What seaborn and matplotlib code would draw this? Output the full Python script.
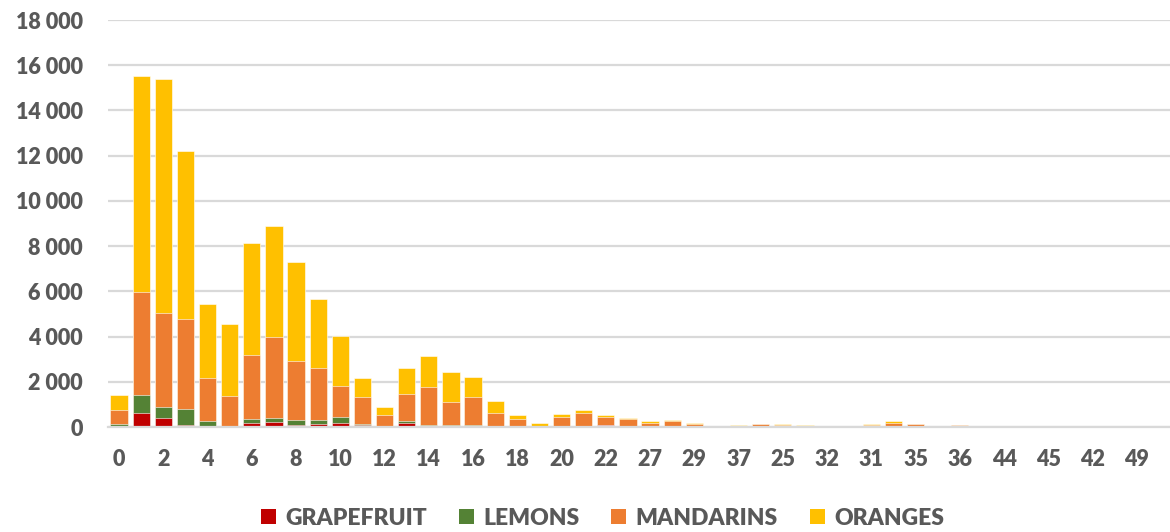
import matplotlib
matplotlib.use("Agg")
import matplotlib.pyplot as plt
from matplotlib.patches import Patch
from matplotlib.ticker import FuncFormatter
import seaborn as sns
import pandas as pd

# categories in the order they appear on the x axis
cats = ["0", "1", "2", "3", "4", "5", "6", "7", "8", "9", "10", "11", "12",
        "13", "14", "15", "16", "17", "18", "19", "20", "21", "22", "24",
        "27", "28", "29", "26", "37", "23", "25", "30", "32", "33", "31",
        "34", "35", "38", "36", "40", "44", "41", "45", "39", "42", "43",
        "49", "47"]

grapefruit = [70, 645, 411, 115, 20, 5, 203, 221, 102, 159, 190, 88, 5,
              203, 10, 40, 70, 10, 0, 0, 0, 0, 88, 0,
              0, 0, 0, 0, 0, 0, 0, 0, 0, 0, 0,
              0, 30, 0, 0, 0, 0, 0, 0, 0, 0, 0, 0, 0]
lemons = [90, 782, 473, 694, 270, 65, 164, 190, 234, 177, 265, 71, 15,
          89, 105, 40, 45, 40, 10, 0, 15, 40, 20, 0,
          0, 0, 0, 0, 0, 0, 0, 0, 0, 0, 0,
          0, 0, 0, 0, 0, 0, 0, 0, 0, 0, 0, 0, 0]
mandarins = [618, 4566, 4180, 3977, 1900, 1313, 2828, 3579, 2594, 2284, 1369, 1167, 537,
             1166, 1679, 1038, 1211, 595, 344, 40, 453, 605, 360, 354,
             203, 265, 150, 30, 70, 140, 115, 70, 10, 55, 115,
             203, 110, 10, 80, 0, 8, 0, 0, 0, 0, 0, 0, 0]
oranges = [636, 9518, 10314, 7410, 3257, 3195, 4936, 4892, 4388, 3036, 2210, 866, 340,
           1149, 1357, 1312, 884, 517, 176, 137, 120, 120, 76, 57,
           75, 58, 40, 20, 30, 19, 44, 30, 40, 15, 18,
           75, 6, 10, 20, 0, 0, 0, 0, 0, 0, 0, 0, 0]

names = ["GRAPEFRUIT", "LEMONS", "MANDARINS", "ORANGES"]
colors = ["#C00000", "#548235", "#ED7D31", "#FFC000"]

df = pd.DataFrame({"cat": cats, "GRAPEFRUIT": grapefruit, "LEMONS": lemons,
                   "MANDARINS": mandarins, "ORANGES": oranges})
# running totals so each layer can be drawn behind the next one
cum = df[names].cumsum(axis=1)

sns.set_style("white")
plt.rcParams["font.family"] = ["Lato", "DejaVu Sans"]
grey = "#595959"

fig, ax = plt.subplots(figsize=(11.7, 5.32), dpi=100)
fig.subplots_adjust(left=0.0923, right=1.0, bottom=0.197, top=0.9624)

for name, color in reversed(list(zip(names, colors))):
    sns.barplot(x=df["cat"], y=cum[name], order=cats, color=color,
                saturation=1, width=0.78, edgecolor="white", linewidth=0.4, ax=ax)

ax.set_ylim(0, 18000)
ax.set_yticks(range(0, 18001, 2000))
ax.yaxis.set_major_formatter(FuncFormatter(lambda v, p: f"{int(v):,}".replace(",", " ")))
ax.set_xticks(range(0, len(cats), 2))
ax.set_xticklabels(cats[::2])
ax.set_xlabel("")
ax.set_ylabel("")
ax.tick_params(axis="y", length=0, pad=18, labelsize=15.5, labelcolor=grey)
ax.tick_params(axis="x", length=0, pad=16, labelsize=15.5, labelcolor=grey)
for lbl in ax.get_xticklabels() + ax.get_yticklabels():
    lbl.set_fontweight("heavy")

ax.yaxis.grid(True, color="#d9d9d9", linewidth=1.6)
ax.set_axisbelow(True)
for s in ["top", "right", "left"]:
    ax.spines[s].set_visible(False)
ax.spines["bottom"].set_color("#d9d9d9")
ax.spines["bottom"].set_linewidth(1.6)

handles = [Patch(facecolor=c, edgecolor="none") for c in colors]
fig.legend(handles, names, loc="center", bbox_to_anchor=(0.515, 0.026), ncol=4,
           frameon=False, handlelength=0.65, handleheight=0.65, handletextpad=0.4,
           columnspacing=1.4, prop={"size": 16.5, "weight": "heavy"}, labelcolor=grey)

fig.savefig("out.png", dpi=100)
